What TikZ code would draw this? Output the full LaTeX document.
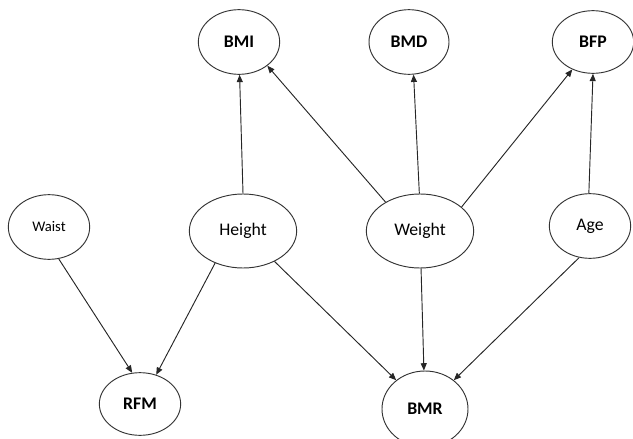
\documentclass[tikz,border=0pt]{standalone}
\usepackage{fontspec}
\setmainfont{Carlito}
\usepackage{tikz}
\usetikzlibrary{arrows.meta,positioning,shapes.geometric}
\tikzset{
    %Define standard arrow tip
    >={Triangle[length=5.5pt,width=4.5pt]},
    %Define style for input ellipses
    inputvar/.style={
           ellipse,
           draw=black!80, line width=.7pt,
           inner sep=0pt,
           minimum width=61pt,
           minimum height=48.5pt,
           font=\fontsize{13.3}{16}\selectfont,
           text centered},
    bigvar/.style={
           inputvar,
           minimum width=80.5pt,
           minimum height=55.5pt},
    %Define style for outcome ellipses
    outcome/.style={
           inputvar,
           font=\fontsize{13.3}{16}\selectfont\bfseries},
    % Define arrow style
    pil/.style={
           ->,
           draw=black!85,
           line width=.7pt}
}
\begin{document}
\begin{tikzpicture}[on grid,every edge/.style={draw,pil}]
\useasboundingbox (0,0) rectangle (474.75pt,-329.25pt);
 %nodes
\node[bigvar](height) at (182.25pt,-173.25pt){Height};
\node[inputvar, above left=3pt and 145.5pt of height, font=\fontsize{11}{13}\selectfont](waist){Waist};
\node[bigvar, right=132.75pt of height](weight){Weight};
\node[inputvar, above right=3.75pt and 127.5pt of weight](age){Age};
\node[outcome, above left=141.75pt and 3pt of height](bmi){BMI};
\node[outcome, above left=141.75pt and 8.25pt of weight, minimum width=60pt](bmd){BMD};
\node[outcome, above right=138pt and 2.25pt of age, minimum height=47pt](bfp){BFP};
\node[outcome, below left=129.75pt and 77.25pt of height, minimum height=47pt](rfm){RFM};
\node[outcome, below right=133.5pt and 3.75pt of weight, minimum width=64.5pt, minimum height=57pt](bmr){BMR};

 \path
    (waist.-73) edge (rfm.104)
    (height.90) edge (bmi.-89)
    (height.-131) edge (rfm.61)
    (height.-44) edge (bmr.135)
    (weight.140) edge (bmi.-40)
    (weight.91) edge (bmd.-82)
    (weight.30) edge (bfp.-127)
    (weight) edge (bmr)
    (age.92) edge (bfp.-90)
    (age.-109) edge (bmr.45);

\end{tikzpicture}
\end{document}
